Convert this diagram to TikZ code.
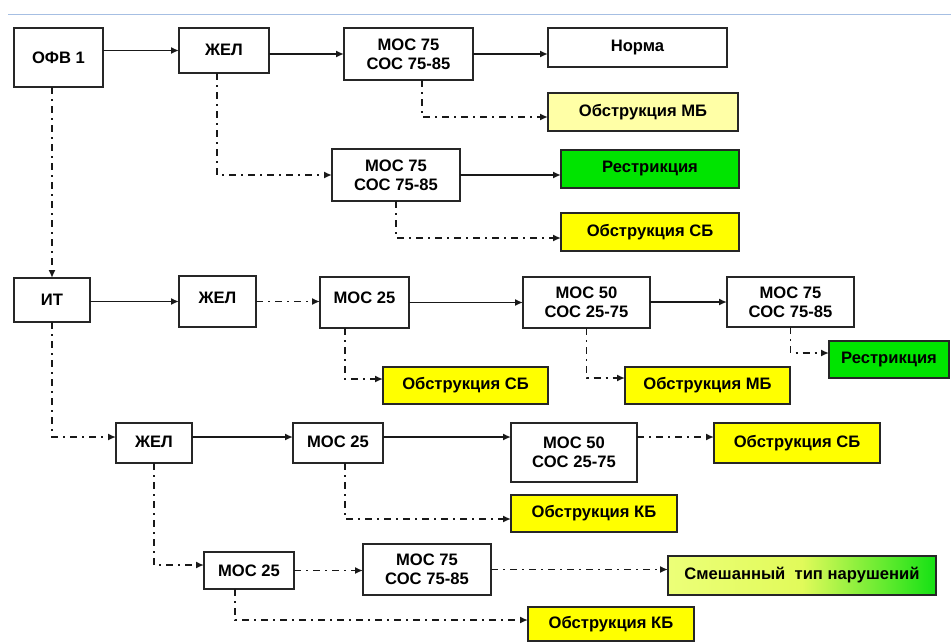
\documentclass[tikz,border=0pt]{standalone}
\usepackage{fontspec}
\setmainfont{Liberation Sans}
\usetikzlibrary{arrows.meta,calc}
\definecolor{lyel}{RGB}{255,255,166}
\definecolor{yel}{RGB}{255,255,0}
\definecolor{grn}{RGB}{0,228,0}
\definecolor{topline}{RGB}{166,191,227}
\tikzset{
  box/.style={draw=black!85, line width=1.6pt, fill=white, inner sep=0pt, outer sep=0pt,
    align=center, font=\fontsize{16.6}{19}\selectfont\bfseries},
  conn/.style={line width=1.9pt, draw=black!90, -{Latex[length=8pt,width=7pt]}},
  dd/.style={conn, dash pattern=on 7pt off 5pt on 2pt off 5pt},
}
\begin{document}
\begin{tikzpicture}[x=1pt,y=-1pt]
\useasboundingbox (0,0) rectangle (951,643);
\draw[topline, line width=1pt] (8,14) -- (951,14);

% row 1
\node[box, minimum width=89pt, minimum height=59pt] (ofv) at (58.5,57.5) {ОФВ 1};
\node[box, minimum width=90pt, minimum height=45pt] (zhel1) at (224,50.5) {\raisebox{2pt}{ЖЕЛ}};
\node[box, minimum width=129pt, minimum height=52pt] (mos1) at (408.5,54) {МОС 75\\СОС 75-85};
\node[box, minimum width=179pt, minimum height=39pt] (norma) at (637.5,47.5) {\raisebox{2pt}{Норма}};
\node[box, fill=lyel, minimum width=190pt, minimum height=38pt] (obmb1) at (643,112) {Обструкция МБ};
\node[box, minimum width=128pt, minimum height=52pt] (mos2) at (396,175) {МОС 75\\СОС 75-85};
\node[box, fill=grn, minimum width=178pt, minimum height=38pt] (restr1) at (650,169) {Рестрикция};
\node[box, fill=yel, minimum width=178pt, minimum height=38pt] (obsb1) at (650,232) {Обструкция СБ};

% row 2
\node[box, minimum width=76pt, minimum height=44pt] (it) at (52,300) {ИТ};
\node[box, minimum width=77pt, minimum height=51pt] (zhel2) at (217.5,301.5) {\raisebox{8pt}{ЖЕЛ}};
\node[box, minimum width=89pt, minimum height=51pt] (mos25a) at (364.5,302.5) {\raisebox{9pt}{МОС 25}};
\node[box, fill=yel, minimum width=165pt, minimum height=37pt] (obsb2) at (465.5,385.5) {Обструкция СБ};
\node[box, minimum width=127pt, minimum height=51pt] (mos50a) at (586.5,302.5) {МОС 50\\СОС 25-75};
\node[box, minimum width=127pt, minimum height=50pt] (mos75a) at (790.5,302) {МОС 75\\СОС 75-85};
\node[box, fill=yel, minimum width=165pt, minimum height=37pt] (obmb2) at (707.5,385.5) {Обструкция МБ};
\node[box, fill=grn, minimum width=120pt, minimum height=37pt] (restr2) at (889,359.5) {Рестрикция};

% row 3
\node[box, minimum width=76pt, minimum height=40pt] (zhel3) at (154,443) {\raisebox{3pt}{ЖЕЛ}};
\node[box, minimum width=90pt, minimum height=40pt] (mos25b) at (338,443) {\raisebox{3pt}{МОС 25}};
\node[box, minimum width=126pt, minimum height=59pt] (mos50b) at (574,452.5) {МОС 50\\СОС 25-75};
\node[box, fill=yel, minimum width=166pt, minimum height=40pt] (obsb3) at (797,443) {Обструкция СБ};
\node[box, fill=yel, minimum width=166pt, minimum height=37pt] (obkb3) at (594,513.5) {Обструкция КБ};

% row 4
\node[box, minimum width=90pt, minimum height=37pt] (mos25c) at (249,570.5) {МОС 25};
\node[box, minimum width=128pt, minimum height=51pt] (mos75c) at (427,569.5) {МОС 75\\СОС 75-85};
\node[box, left color={rgb,255:red,236;green,255;blue,120}, right color={rgb,255:red,20;green,225;blue,20},
      middle color={rgb,255:red,225;green,250;blue,90},
      minimum width=268pt, minimum height=39pt] (mixed) at (802,575.5) {Смешанный\ \ тип нарушений};
\node[box, fill=yel, minimum width=166pt, minimum height=34pt] (obkb4) at (611,624) {Обструкция КБ};

% connectors row 1
\draw[conn] (ofv.east |- zhel1.west) -- (zhel1.west);
\draw[conn] (zhel1.east |- mos1.west) -- (mos1.west);
\draw[conn] (mos1.east) -- (mos1.east -| norma.west);
\draw[dd] ([xshift=13.5pt]mos1.south) |- ([yshift=-5pt]obmb1.west);
\draw[dd] ([xshift=-7pt]zhel1.south) |- (mos2.west);
\draw[conn] (mos2.east) -- (mos2.east -| restr1.west);
\draw[dd] (mos2.south) |- ([yshift=-6pt]obsb1.west);
\draw[dd] (it.north |- ofv.south) -- (it.north);

% connectors row 2
\draw[conn] (it.east |- zhel2.west) -- (zhel2.west);
\draw[dd] (zhel2.east) -- (zhel2.east -| mos25a.west);
\draw[conn] (mos25a.east |- mos50a.west) -- (mos50a.west);
\draw[dd] ([xshift=-19.5pt]mos25a.south) |- ([yshift=6.5pt]obsb2.west);
\draw[conn] (mos50a.east |- mos75a.west) -- (mos75a.west);
\draw[dd] (mos50a.south) |- ([yshift=7.5pt]obmb2.west);
\draw[dd] (mos75a.south) |- ([yshift=6.5pt]restr2.west);

% connectors row 3
\draw[dd] (it.south) |- ([yshift=6pt]zhel3.west);
\draw[conn] ([yshift=6pt]zhel3.east) -- ([yshift=6pt]mos25b.west);
\draw[conn] ([yshift=6pt]mos25b.east) -- ([yshift=6pt]mos25b.east -| mos50b.west);
\draw[dd] ([yshift=6pt]obsb3.west -| mos50b.east) -- ([yshift=6pt]obsb3.west);
\draw[dd] ([xshift=7pt]mos25b.south) |- ([yshift=-5.5pt]obkb3.west);

% connectors row 4
\draw[dd] (zhel3.south) |- ([yshift=5.5pt]mos25c.west);
\draw[dd] (mos25c.east) -- (mos25c.east -| mos75c.west);
\draw[dd] (mos75c.east) -- (mos75c.east -| mixed.west);
\draw[dd] ([xshift=-14pt]mos25c.south) |- ([yshift=4pt]obkb4.west);
\end{tikzpicture}
\end{document}
